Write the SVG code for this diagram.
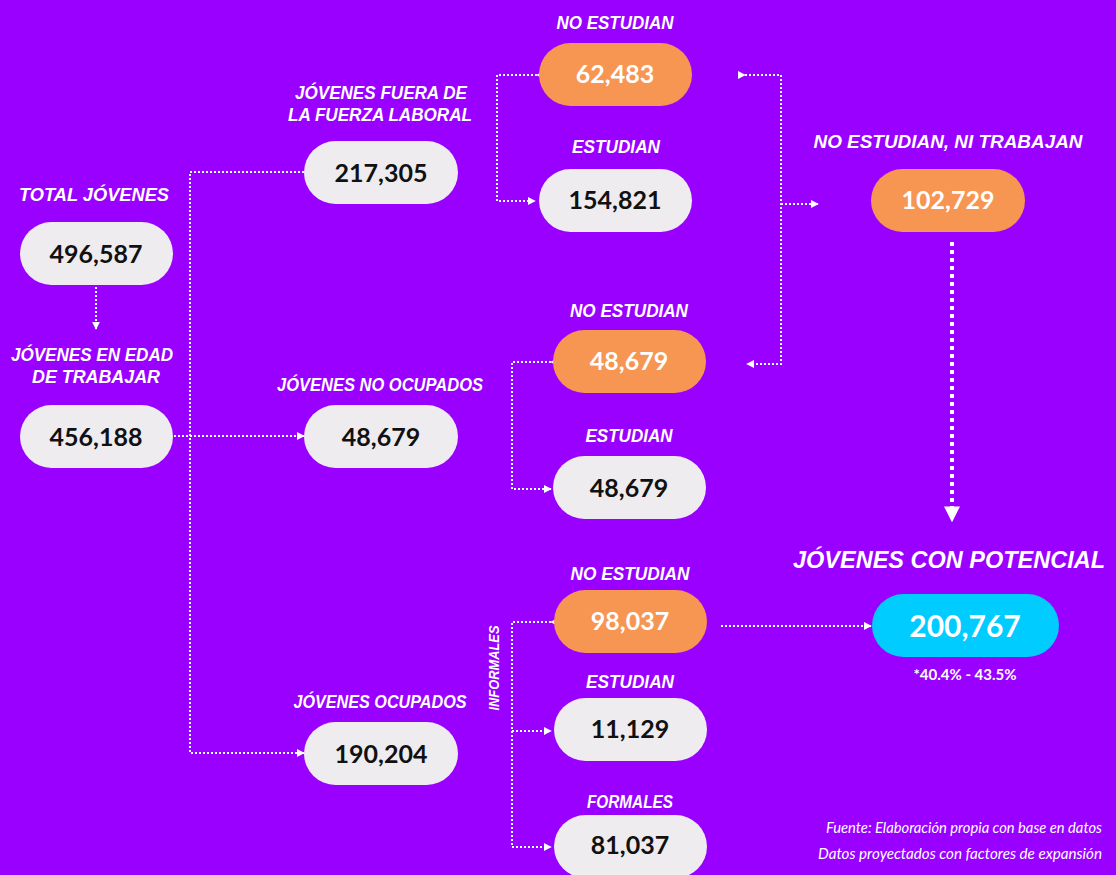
<svg xmlns="http://www.w3.org/2000/svg" width="1116" height="875" viewBox="0 0 1116 875">
<defs>
<style>
.lbl{font-family:"Liberation Sans",Arial,sans-serif;font-style:italic;font-weight:700;font-size:19px;fill:#fff;text-anchor:middle}
.num{font-family:Lato,"Noto Sans",sans-serif;font-weight:700;font-size:25px;text-anchor:middle;dominant-baseline:central}
.dk{fill:#111}
.wt{fill:#fff}
.pw{fill:#EEECEE}
.po{fill:#F79552}
.pc{fill:#00CCFF}
.c{fill:none;stroke:#fff;stroke-width:2;stroke-dasharray:2 2}
.cb{fill:none;stroke:#fff;stroke-width:4;stroke-dasharray:4 4}
.foot{font-family:Lato,"Noto Sans",sans-serif;font-style:italic;font-weight:400;font-size:15px;fill:#fff}
</style>
<marker id="ar" viewBox="0 0 10 10" refX="9" refY="5" markerWidth="4" markerHeight="4" orient="auto" markerUnits="strokeWidth">
<path d="M0,0 L10,5 L0,10 z" fill="#fff"/>
</marker>
<marker id="arb" viewBox="0 0 10 10" refX="6" refY="5" markerWidth="4" markerHeight="4" orient="auto" markerUnits="strokeWidth">
<path d="M0,0 L10,5 L0,10 z" fill="#fff"/>
</marker>
</defs>
<rect width="1116" height="875" fill="#9900FF"/>

<g id="connectors">
<path class="c" d="M96,287 V329" marker-end="url(#ar)"/>
<path class="c" d="M174,436 H304" marker-end="url(#ar)"/>
<path class="c" d="M304,172 H190 V753 H304" marker-end="url(#ar)"/>
<path class="c" d="M537,75 H497 V201 H535" marker-start="url(#ar)" marker-end="url(#ar)"/>
<path class="c" d="M551,362 H512 V489 H551" marker-start="url(#ar)" marker-end="url(#ar)"/>
<path class="c" d="M551,622 H512 V847 H551" marker-start="url(#ar)" marker-end="url(#ar)"/>
<path class="c" d="M512,731 H551" marker-end="url(#ar)"/>
<path class="c" d="M745,75 H781 V364 H747" marker-start="url(#ar)" marker-end="url(#ar)"/>
<path class="c" d="M781,204 H818" marker-end="url(#ar)"/>
<path class="c" d="M721,626 H871" marker-end="url(#ar)"/>
<path class="cb" d="M952,242 V516" marker-end="url(#arb)"/>
</g>

<g id="n-total">
<text class="lbl" x="94" y="201" textLength="150" lengthAdjust="spacingAndGlyphs">TOTAL JÓVENES</text>
<rect class="pw" x="20" y="222" width="153" height="63" rx="31.5"/>
<text class="num dk" x="96" y="253">496,587</text>
</g>
<g id="n-edad">
<text class="lbl" x="92" y="361" textLength="162" lengthAdjust="spacingAndGlyphs">JÓVENES EN EDAD</text>
<text class="lbl" x="96" y="383" textLength="128" lengthAdjust="spacingAndGlyphs">DE TRABAJAR</text>
<rect class="pw" x="20" y="405" width="153" height="63" rx="31.5"/>
<text class="num dk" x="96" y="436">456,188</text>
</g>
<g id="n-fuera">
<text class="lbl" x="381" y="99" textLength="172" lengthAdjust="spacingAndGlyphs">JÓVENES FUERA DE</text>
<text class="lbl" x="380" y="121" textLength="184" lengthAdjust="spacingAndGlyphs">LA FUERZA LABORAL</text>
<rect class="pw" x="304" y="141" width="154" height="63" rx="31.5"/>
<text class="num dk" x="381" y="172">217,305</text>
</g>
<g id="n-noocup">
<text class="lbl" x="380" y="391" textLength="206" lengthAdjust="spacingAndGlyphs">JÓVENES NO OCUPADOS</text>
<rect class="pw" x="304" y="405" width="154" height="63" rx="31.5"/>
<text class="num dk" x="381" y="436">48,679</text>
</g>
<g id="n-ocup">
<text class="lbl" x="380" y="708" textLength="173" lengthAdjust="spacingAndGlyphs">JÓVENES OCUPADOS</text>
<rect class="pw" x="304" y="722" width="154" height="63" rx="31.5"/>
<text class="num dk" x="381" y="753">190,204</text>
</g>
<g id="n-ne1">
<text class="lbl" x="615" y="29" textLength="117" lengthAdjust="spacingAndGlyphs">NO ESTUDIAN</text>
<rect class="po" x="539" y="43" width="153" height="63" rx="31.5"/>
<text class="num wt" x="615" y="73">62,483</text>
</g>
<g id="n-e1">
<text class="lbl" x="616" y="153" textLength="88" lengthAdjust="spacingAndGlyphs">ESTUDIAN</text>
<rect class="pw" x="539" y="169" width="153" height="63" rx="31.5"/>
<text class="num dk" x="615" y="199">154,821</text>
</g>
<g id="n-ne2">
<text class="lbl" x="629" y="317" textLength="118" lengthAdjust="spacingAndGlyphs">NO ESTUDIAN</text>
<rect class="po" x="553" y="330" width="153" height="63" rx="31.5"/>
<text class="num wt" x="629" y="360">48,679</text>
</g>
<g id="n-e2">
<text class="lbl" x="629" y="442" textLength="87" lengthAdjust="spacingAndGlyphs">ESTUDIAN</text>
<rect class="pw" x="553" y="456" width="153" height="63" rx="31.5"/>
<text class="num dk" x="629" y="487">48,679</text>
</g>
<g id="n-ne3">
<text class="lbl" x="630" y="580" textLength="119" lengthAdjust="spacingAndGlyphs">NO ESTUDIAN</text>
<rect class="po" x="554" y="590" width="153" height="63" rx="31.5"/>
<text class="num wt" x="630" y="620">98,037</text>
</g>
<g id="n-e3">
<text class="lbl" x="630" y="688" textLength="88" lengthAdjust="spacingAndGlyphs">ESTUDIAN</text>
<rect class="pw" x="554" y="698" width="153" height="63" rx="31.5"/>
<text class="num dk" x="630" y="728">11,129</text>
</g>
<g id="n-formales">
<text class="lbl" x="630" y="808" textLength="86" lengthAdjust="spacingAndGlyphs">FORMALES</text>
<rect class="pw" x="554" y="815" width="153" height="63" rx="31.5"/>
<text class="num dk" x="630" y="844">81,037</text>
</g>
<g id="l-informales">
<text class="lbl" style="font-size:15px" transform="translate(499,668) rotate(-90)" textLength="85" lengthAdjust="spacingAndGlyphs">INFORMALES</text>
</g>
<g id="n-nini">
<text class="lbl" x="948" y="148" textLength="269" lengthAdjust="spacingAndGlyphs">NO ESTUDIAN, NI TRABAJAN</text>
<rect class="po" x="871" y="169" width="154" height="63" rx="31.5"/>
<text class="num wt" x="948" y="199">102,729</text>
</g>
<g id="n-potencial">
<text class="lbl" x="793" y="568" style="font-size:23.5px;text-anchor:start" textLength="312" lengthAdjust="spacingAndGlyphs">JÓVENES CON POTENCIAL</text>
<rect class="pc" x="872" y="594" width="187" height="63" rx="31.5"/>
<text class="num wt" x="965" y="625" style="font-size:30px">200,767</text>
<text x="965" y="680" font-family="Lato,'Noto Sans',sans-serif" font-weight="700" font-size="15" fill="#fff" text-anchor="middle">*40.4% - 43.5%</text>
</g>
<g id="footnote">
<text class="foot" x="826" y="833" textLength="276" lengthAdjust="spacingAndGlyphs">Fuente: Elaboración propia con base en datos</text>
<text class="foot" x="818" y="859" textLength="284" lengthAdjust="spacingAndGlyphs">Datos proyectados con factores de expansión</text>
</g>
</svg>
